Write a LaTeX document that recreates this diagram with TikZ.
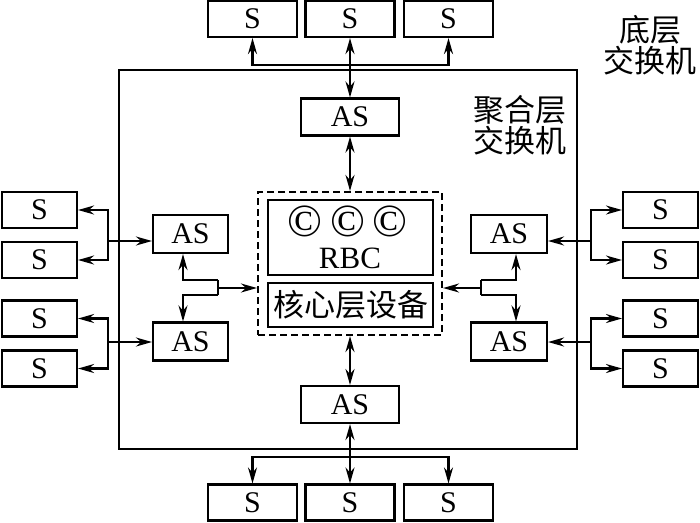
\documentclass[tikz,border=0pt]{standalone}
\usepackage{fontspec}
\setmainfont{Liberation Serif}
\newfontfamily\cjk{Noto Sans CJK SC}
\usetikzlibrary{arrows.meta}

\begin{document}
\begin{tikzpicture}[x=1pt, y=-1pt,
  line width=2.1pt,
  font=\fontsize{30}{30}\selectfont,
  sbox/.style={draw, inner sep=0pt, minimum height=36pt},
  asbox/.style={draw, inner sep=0pt, minimum height=37pt},
  zh/.style={font=\fontsize{31}{31}\selectfont\cjk, align=center},
  cmark/.style={inner sep=0pt, text height=23pt, text depth=0pt, font=\fontsize{46}{46}\selectfont},
  arr/.style={-{Stealth[length=16pt, width=9pt]}},
  biarr/.style={{Stealth[length=16pt, width=9pt]}-{Stealth[length=16pt, width=9pt]}}
]
\useasboundingbox (0,0) rectangle (700,522);
% aggregation frame
\node[draw, minimum width=458pt, minimum height=379pt, inner sep=0pt] (agg) at (348,259.5) {};
\node[zh] (lbot) at (650,45) {底层\\交换机};
\node[zh] (lagg) at (520,125) {聚合层\\交换机};
% core
\node[draw, dash pattern=on 7pt off 4pt, minimum width=184pt, minimum height=143pt, inner sep=0pt] (core) at (350,263.5) {};
\node[draw, minimum width=165pt, minimum height=75pt, inner sep=0pt] (rbc) at (350.5,237.5) {};
\node[cmark] (c1) at (305,225) {©};
\node[cmark] (c2) at (348,225) {©};
\node[cmark] (c3) at (390,225) {©};
\node[inner sep=0pt, font=\fontsize{31}{31}\selectfont] (rbct) at (350,258) {RBC};
\node[draw, minimum width=165pt, minimum height=44pt, inner sep=0pt, zh] (dev) at (350.5,305) {核心层设备};
% top
\node[sbox, minimum width=89pt] (ts1) at (252.5,19) {S};
\node[sbox, minimum width=89pt] (ts2) at (350,19) {S};
\node[sbox, minimum width=89pt] (ts3) at (448.5,19) {S};
\node[asbox, minimum width=98pt] (tas) at (350,117) {AS};
\coordinate (tb) at (350,65);
\draw[biarr] (ts1.south) |- (tb) -| (ts3.south);
\draw[biarr] (ts2.south) -- (tas.north);
\draw[biarr] (tas.south) -- (core.north);
% bottom
\node[sbox, minimum width=89pt] (bs1) at (252.5,502.5) {S};
\node[sbox, minimum width=89pt] (bs2) at (350,502.5) {S};
\node[sbox, minimum width=89pt] (bs3) at (448.5,502.5) {S};
\node[asbox, minimum width=98pt] (bas) at (350,404.5) {AS};
\coordinate (bb) at (350,457);
\draw[biarr] (bs1.north) |- (bb) -| (bs3.north);
\draw[biarr] (bs2.north) -- (bas.south);
\draw[biarr] (core.south) -- (bas.north);
% left
\node[sbox, minimum width=75pt] (ls1) at (39.5,210) {S};
\node[sbox, minimum width=75pt] (ls2) at (39.5,260) {S};
\node[sbox, minimum width=75pt] (ls3) at (39.5,318.5) {S};
\node[sbox, minimum width=75pt] (ls4) at (39.5,368.5) {S};
\node[asbox, minimum width=75pt, minimum height=38pt] (las1) at (190.5,234) {AS};
\node[asbox, minimum width=75pt, minimum height=38pt] (las2) at (190.5,341.5) {AS};
\coordinate (lb1) at (108,241);
\coordinate (lb2) at (108,342);
\draw[biarr] (ls1.east) -| (lb1) |- (ls2.east);
\draw[biarr] (ls3.east) -| (lb2) |- (ls4.east);
\draw[arr] (lb1) -- (las1.west |- lb1);
\draw[arr] (lb2) -- (las2.west |- lb2);
\coordinate (lj1) at (218,280);
\coordinate (lj2) at (218,295);
\coordinate (lj) at (218,288);
\draw[arr] (lj1) -| ([xshift=-7.5]las1.south);
\draw[arr] (lj2) -| ([xshift=-7.5]las2.north);
\draw (lj1) -- (lj2);
\draw[arr] (lj) -- (core.west |- lj);
% right
\node[sbox, minimum width=75pt] (rs1) at (660.5,210) {S};
\node[sbox, minimum width=75pt] (rs2) at (660.5,260) {S};
\node[sbox, minimum width=75pt] (rs3) at (660.5,318.5) {S};
\node[sbox, minimum width=75pt] (rs4) at (660.5,368.5) {S};
\node[asbox, minimum width=76pt, minimum height=38pt] (ras1) at (509,234) {AS};
\node[asbox, minimum width=76pt, minimum height=38pt] (ras2) at (509,341.5) {AS};
\coordinate (rb1) at (591,241);
\coordinate (rb2) at (591,342);
\draw[biarr] (rs1.west) -| (rb1) |- (rs2.west);
\draw[biarr] (rs3.west) -| (rb2) |- (rs4.west);
\draw[arr] (rb1) -- (ras1.east |- rb1);
\draw[arr] (rb2) -- (ras2.east |- rb2);
\coordinate (rj1) at (481,280);
\coordinate (rj2) at (481,295);
\coordinate (rj) at (481,288);
\draw[arr] (rj1) -| ([xshift=7]ras1.south);
\draw[arr] (rj2) -| ([xshift=7]ras2.north);
\draw (rj1) -- (rj2);
\draw[arr] (rj) -- (core.east |- rj);
\end{tikzpicture}
\end{document}
